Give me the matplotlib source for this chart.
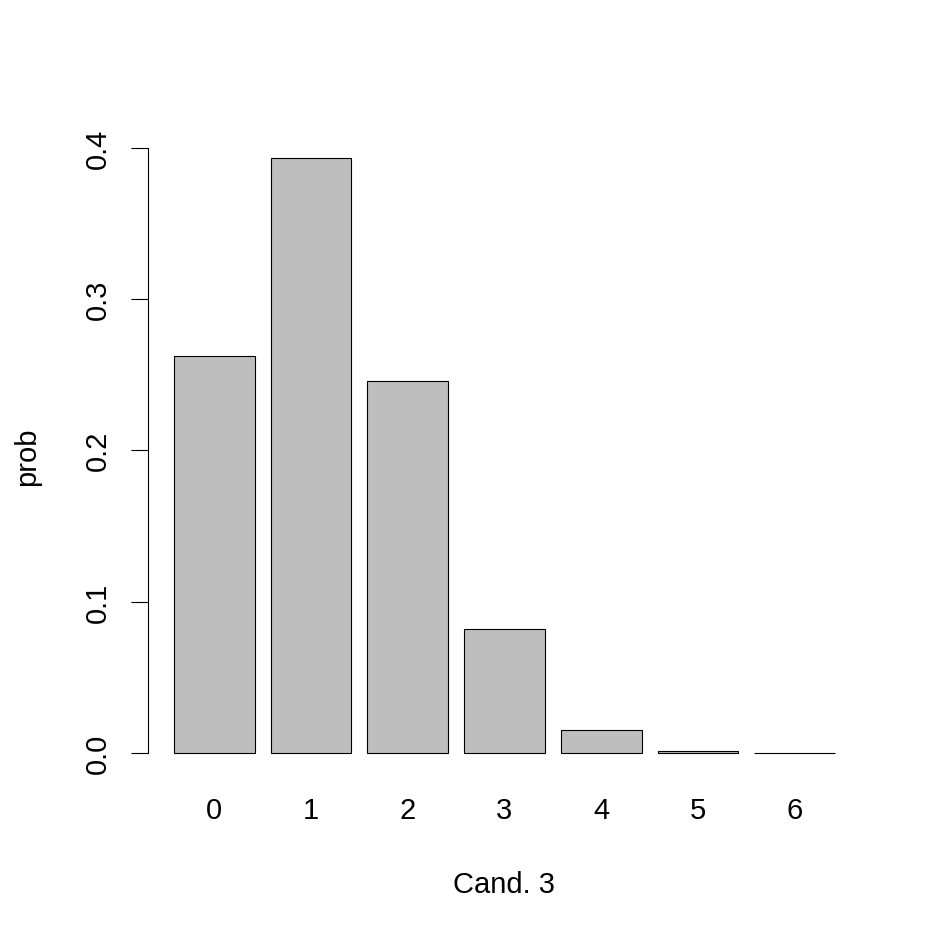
import matplotlib
matplotlib.use("Agg")
import matplotlib.pyplot as plt
import numpy as np

plt.rcParams['font.family'] = ['Liberation Sans', 'DejaVu Sans']

# data
categories = ['0', '1', '2', '3', '4', '5', '6']
prob = [0.262, 0.393, 0.246, 0.082, 0.0154, 0.0015, 0.000064]
yticks = [0.0, 0.1, 0.2, 0.3, 0.4]

fig = plt.figure(figsize=(9.37, 9.37), dpi=100)
ax = fig.add_axes([0.1575, 0.170, 0.7618, 0.6855])

# R barplot layout: width 1, space 0.2
x = 0.2 + 1.2 * np.arange(len(prob)) + 0.5
ax.bar(x, prob, width=1.0, color='#bebebe', edgecolor='black', linewidth=0.8)

xl = (0.2, 0.2 + 1.2 * len(prob) - 0.2)
pad = 0.04 * (xl[1] - xl[0])
ax.set_xlim(xl[0] - pad, xl[1] + pad)
ypad = 0.04 * max(prob)
ax.set_ylim(-ypad, max(prob) + ypad)

for s in ['top', 'right', 'bottom']:
    ax.spines[s].set_visible(False)
ax.spines['left'].set_bounds(0, 0.4)
ax.spines['left'].set_linewidth(0.8)

ax.set_yticks(yticks)
ax.set_yticklabels(['0.0', '0.1', '0.2', '0.3', '0.4'], rotation=90, va='center', fontsize=21)
ax.tick_params(axis='y', length=12, width=0.8, pad=13.5)

ax.set_xticks(x)
ax.set_xticklabels(categories, fontsize=21)
ax.tick_params(axis='x', length=0, pad=14)

ax.set_xlabel('Cand. 3', fontsize=21, labelpad=33)
ax.set_ylabel('prob', fontsize=21, labelpad=31)

fig.savefig('out.png', dpi=100)
